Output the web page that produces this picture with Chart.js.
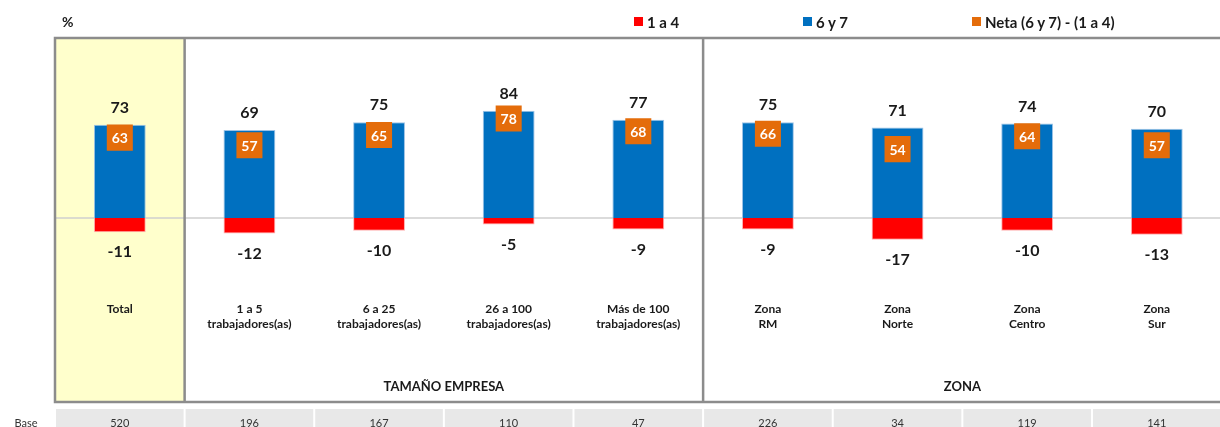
<!DOCTYPE html>
<html>
<head>
<meta charset="utf-8">
<script src="https://cdn.jsdelivr.net/npm/chart.js@4.4.0/dist/chart.umd.min.js"></script>
<style>
body { margin: 0; overflow: hidden; background: #fff; font-family: Lato, sans-serif; }
#wrap { position: relative; width: 1240px; height: 427px; overflow: hidden; }
canvas { position: absolute; left: 0; top: 0; }
.lg { position: absolute; top: 13px; font-weight: bold; font-size: 15px; line-height: 18px; color: #1a1a1a; white-space: nowrap; }
.lg i { position: absolute; left: 0; top: 4px; width: 9px; height: 9px; }
.lg span { position: absolute; left: 13px; top: 0; }
.pct { position: absolute; left: 62px; top: 13px; font-weight: bold; font-size: 14px; color: #1a1a1a; }
</style>
</head>
<body>
<div id="wrap">
  <canvas id="myChart" width="1240" height="427" style="width:1240px;height:427px"></canvas>
  <div class="pct">%</div>
  <div class="lg" style="left:634px"><i style="background:#FF0000"></i><span>1 a 4</span></div>
  <div class="lg" style="left:803px"><i style="background:#0070C0"></i><span>6 y 7</span></div>
  <div class="lg" style="left:972px"><i style="background:#E46C0A"></i><span>Neta (6 y 7) - (1 a 4)</span></div>
</div>
<script>
var categories = [
    ['Total'],
    ['1 a 5', 'trabajadores(as)'],
    ['6 a 25', 'trabajadores(as)'],
    ['26 a 100', 'trabajadores(as)'],
    ['Más de 100', 'trabajadores(as)'],
    ['Zona', 'RM'],
    ['Zona', 'Norte'],
    ['Zona', 'Centro'],
    ['Zona', 'Sur']
];
var sixSeven = [73, 69, 75, 84, 77, 75, 71, 74, 70];
var oneFour = [-11, -12, -10, -5, -9, -9, -17, -10, -13];
var neta = [63, 57, 65, 78, 68, 66, 54, 64, 57];
var bases = [520, 196, 167, 110, 47, 226, 34, 119, 141];
var groupNames = ['TAMAÑO EMPRESA', 'ZONA'];
var groupStart = [1, 5];
var groupEnd = [4, 8];

var textColor = '#1a1a1a';

var boxPlugin = {
    id: 'boxPlugin',
    beforeDatasetsDraw: function(chart) {
        var ctx = chart.ctx, a = chart.chartArea;
        var xs = chart.scales.x, ys = chart.scales.y;
        var half = (xs.getPixelForValue(1) - xs.getPixelForValue(0)) / 2;
        ctx.save();
        // yellow total column
        ctx.fillStyle = '#FFFFCC';
        ctx.fillRect(a.left, a.top, xs.getPixelForValue(0) + half - a.left, a.bottom - a.top);
        // zero line
        var y0 = ys.getPixelForValue(0);
        ctx.strokeStyle = '#cfcfcf';
        ctx.lineWidth = 1.5;
        ctx.beginPath();
        ctx.moveTo(a.left, y0);
        ctx.lineTo(a.right, y0);
        ctx.stroke();
        ctx.restore();
    },
    afterDatasetsDraw: function(chart) {
        var ctx = chart.ctx, a = chart.chartArea;
        var xs = chart.scales.x, ys = chart.scales.y;
        var half = (xs.getPixelForValue(1) - xs.getPixelForValue(0)) / 2;
        ctx.save();
        ctx.textAlign = 'center';
        ctx.textBaseline = 'middle';

        // value labels
        for (var i = 0; i < categories.length; i++) {
            var cx = xs.getPixelForValue(i);
            ctx.fillStyle = textColor;
            ctx.font = 'bold 16px Lato';
            ctx.fillText(sixSeven[i], cx, ys.getPixelForValue(sixSeven[i]) - 17);
            ctx.fillText(oneFour[i], cx, ys.getPixelForValue(oneFour[i]) + 20);
            ctx.fillStyle = '#ffffff';
            ctx.font = 'bold 14px Lato';
            ctx.fillText(neta[i], cx, ys.getPixelForValue(neta[i]) + 1);

            // category labels
            ctx.fillStyle = textColor;
            ctx.font = 'bold 12px Lato';
            for (var k = 0; k < categories[i].length; k++) {
                ctx.fillText(categories[i][k], cx, a.top + 271 + k * 15);
            }
        }

        // group labels
        ctx.font = 'bold 13px Lato';
        for (var g = 0; g < groupNames.length; g++) {
            var gx = (xs.getPixelForValue(groupStart[g]) + xs.getPixelForValue(groupEnd[g])) / 2;
            ctx.fillText(groupNames[g], gx, a.top + 349);
        }

        // frame
        ctx.strokeStyle = '#8c8c8c';
        ctx.lineWidth = 2.5;
        ctx.beginPath();
        ctx.moveTo(a.right, a.top);
        ctx.lineTo(a.left, a.top);
        ctx.lineTo(a.left, a.bottom);
        ctx.lineTo(a.right, a.bottom);
        for (var s = 0; s < groupStart.length; s++) {
            var sx = xs.getPixelForValue(groupStart[s]) - half;
            ctx.moveTo(sx, a.top);
            ctx.lineTo(sx, a.bottom);
        }
        ctx.stroke();

        // base row
        ctx.font = '11px Lato';
        ctx.fillStyle = '#333333';
        ctx.fillText('Base', 26, 423);
        for (var b = 0; b < bases.length; b++) {
            var bx = xs.getPixelForValue(b);
            ctx.fillStyle = '#e8e8e8';
            ctx.fillRect(bx - half + 1, a.bottom + 7, 2 * half - 2, 30);
            ctx.fillStyle = '#333333';
            ctx.fillText(bases[b], bx, 423);
        }
        ctx.restore();
    }
};

var ctx = document.getElementById('myChart').getContext('2d');
var chart = new Chart(ctx, {
    type: 'bar',
    data: {
        labels: categories,
        datasets: [{
            type: 'line',
            label: 'Neta (6 y 7) - (1 a 4)',
            data: neta,
            showLine: false,
            pointStyle: 'rect',
            pointRadius: 18.4,
            pointHoverRadius: 18.4,
            pointBackgroundColor: '#E46C0A',
            pointBorderWidth: 0,
            stack: 'neta',
            order: 0
        },
        {
            label: '6 y 7',
            data: sixSeven,
            backgroundColor: '#0070C0',
            borderColor: '#9dc3e6',
            borderWidth: 1,
            stack: 'bars',
            order: 1
        },
        {
            label: '1 a 4',
            data: oneFour,
            backgroundColor: '#FF0000',
            borderColor: '#ffb0b0',
            borderWidth: 1,
            stack: 'bars',
            order: 1
        }]
    },
    options: {
        responsive: false,
        animation: false,
        devicePixelRatio: 1,
        categoryPercentage: 1,
        barPercentage: 0.4,
        layout: { padding: { left: 55, top: 38, right: 3, bottom: 25 } },
        plugins: {
            legend: { display: false },
            tooltip: { enabled: false }
        },
        scales: {
            x: { display: false, stacked: true },
            y: { display: false, stacked: true, min: -144, max: 141 }
        }
    },
    plugins: [boxPlugin]
});
</script>
</body>
</html>
